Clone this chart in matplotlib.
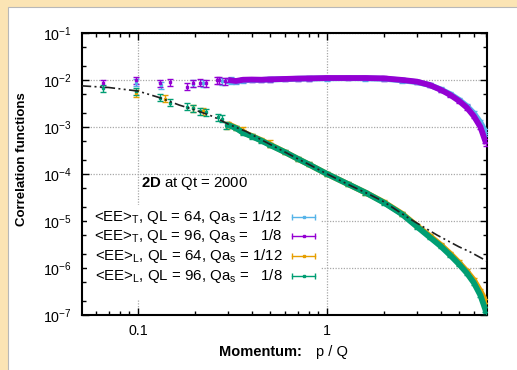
import matplotlib
matplotlib.use("Agg")
import matplotlib.pyplot as plt
from matplotlib.patches import Rectangle
from matplotlib.ticker import LogLocator, NullFormatter, FixedLocator, FixedFormatter

plt.rcParams['font.family'] = ['Liberation Sans', 'DejaVu Sans']
plt.rcParams['mathtext.fontset'] = 'custom'
plt.rcParams['mathtext.rm'] = 'Liberation Sans'
plt.rcParams['mathtext.it'] = 'Liberation Sans:italic'
plt.rcParams['mathtext.bf'] = 'Liberation Sans:bold'

# ---------------- data ----------------
labels = [r'<EE>$_\mathrm{T}$, QL = 64, Qa$_\mathrm{s}$ = 1/12',
          r'<EE>$_\mathrm{T}$, QL = 96, Qa$_\mathrm{s}$ =   1/8',
          r'<EE>$_\mathrm{L}$, QL = 64, Qa$_\mathrm{s}$ = 1/12',
          r'<EE>$_\mathrm{L}$, QL = 96, Qa$_\mathrm{s}$ =   1/8']
colors = ['#56B4E9', '#9400D3', '#E69F00', '#009E73']

x_ticks = [0.1, 1]
x_tick_labels = ['0.1', '1']
y_ticks = [1e-7, 1e-6, 1e-5, 1e-4, 1e-3, 1e-2, 1e-1]
y_tick_labels = [r'$10^{-7}$', r'$10^{-6}$', r'$10^{-5}$', r'$10^{-4}$',
                 r'$10^{-3}$', r'$10^{-2}$', r'$10^{-1}$']

# sparse low-momentum points
pT64_s = [0.098, 0.133, 0.196, 0.22, 0.278, 0.31]
T64_s = [8.8e-3, 7.9e-3, 8.4e-3, 8.5e-3, 9.5e-3, 9.8e-3]
pT96_s = [0.0654, 0.098, 0.131, 0.147, 0.181, 0.196, 0.212, 0.228, 0.262, 0.27, 0.29]
T96_s = [8.6e-3, 1.0e-2, 8.5e-3, 8.9e-3, 7.2e-3, 8.6e-3, 8.8e-3, 8.7e-3, 1.0e-2, 1.0e-2, 9.6e-3]
pL64_s = [0.098, 0.139, 0.196, 0.22, 0.295, 0.36, 0.5]
L64_s = [5.3e-3, 4.0e-3, 2.5e-3, 2.15e-3, 1.1e-3, 8.6e-4, 4.5e-4]
pL96_s = [0.0654, 0.097, 0.131, 0.147, 0.181, 0.196, 0.212, 0.228, 0.265, 0.28, 0.294]
L96_s = [6.6e-3, 5.9e-3, 4.2e-3, 3.3e-3, 2.7e-3, 2.5e-3, 2.2e-3, 2.1e-3, 1.6e-3, 1.5e-3, 1.1e-3]

# dense band (p >= 0.3)
p_band = [0.3, 0.33, 0.36, 0.4, 0.45, 0.5, 0.6, 0.7, 0.8, 1.0, 1.3, 1.6, 2.0, 2.5,
          3.0, 3.5, 4.0, 4.5, 5.0, 5.5, 6.0, 6.5, 6.9, 7.0]
T64_b = [9.6e-3, 9.3e-3, 9.8e-3, 1.0e-2, 1.0e-2, 1.02e-2, 1.04e-2, 1.06e-2, 1.07e-2, 1.08e-2,
         1.09e-2, 1.08e-2, 1.06e-2, 9.8e-3, 9.0e-3, 7.8e-3, 6.3e-3, 5.0e-3, 3.8e-3,
         2.8e-3, 1.95e-3, 1.25e-3, 8.0e-4, 7.0e-4]
T96_b = [1.0e-2, 9.5e-3, 1.01e-2, 1.02e-2, 1.01e-2, 1.03e-2, 1.05e-2, 1.07e-2, 1.08e-2, 1.1e-2,
         1.1e-2, 1.1e-2, 1.08e-2, 1.0e-2, 9.2e-3, 7.8e-3, 6.2e-3, 4.8e-3, 3.6e-3,
         2.6e-3, 1.7e-3, 1.0e-3, 5.0e-4, 4.4e-4]
L64_b = [1.15e-3, 9.6e-4, 7.7e-4, 6.4e-4, 5.2e-4, 4.2e-4, 2.9e-4, 2.1e-4, 1.6e-4, 1.0e-4,
         6.0e-5, 4.0e-5, 2.5e-5, 1.42e-5, 7.8e-6, 4.8e-6, 3.1e-6, 2.0e-6, 1.3e-6,
         8.5e-7, 5.5e-7, 3.2e-7, 2.0e-7, 1.6e-7]
L96_b = [1.1e-3, 9.4e-4, 7.5e-4, 6.3e-4, 5.1e-4, 4.1e-4, 2.9e-4, 2.1e-4, 1.6e-4, 1.0e-4,
         6.0e-5, 4.0e-5, 2.45e-5, 1.38e-5, 7.5e-6, 4.5e-6, 2.9e-6, 1.85e-6, 1.2e-6,
         7.8e-7, 4.8e-7, 2.6e-7, 1.3e-7, 1.05e-7]

# dash-dot reference curve
p_fit = [0.05, 0.07, 0.1, 0.13, 0.166, 0.2, 0.25, 0.3, 0.376, 0.45, 0.565, 0.7, 0.8,
         1.0, 1.3, 1.69, 2.0, 2.75, 3.82, 5.0, 5.7, 7.0]
fit = [7.5e-3, 6.9e-3, 5.8e-3, 4.2e-3, 2.9e-3, 2.3e-3, 1.66e-3, 1.15e-3, 7.9e-4, 5.3e-4,
       3.3e-4, 2.1e-4, 1.6e-4, 1.0e-4, 5.9e-5, 3.6e-5, 2.55e-5, 1.1e-5, 5.0e-6, 2.8e-6,
       2.2e-6, 1.4e-6]

rel_err = 0.17

# ---------------- figure ----------------
fig = plt.figure(figsize=(5.17, 3.70), dpi=100)
fig.patch.set_facecolor('#FBE4B4')
fig.patches.append(Rectangle((8 / 517, -0.01), 1.0, 1 - 7 / 370 + 0.01, transform=fig.transFigure,
                             facecolor='white', edgecolor='#b8b8b8', lw=0.8, zorder=-5))

ax = fig.add_axes([82 / 517, 1 - 314.7 / 370, 404.7 / 517, 281.7 / 370])
ax.set_zorder(1)
ax.set_xscale('log')
ax.set_yscale('log')
ax.set_xlim(0.0505, 7.02)
ax.set_ylim(1e-7, 1e-1)
ax.set_axisbelow(True)

sparse = [(pT64_s, T64_s), (pT96_s, T96_s), (pL64_s, L64_s), (pL96_s, L96_s)]
bands = [T64_b, T96_b, L64_b, L96_b]
for (ps, vs), vb, c in zip(sparse, bands, colors):
    lo = [v * rel_err for v in vs]
    hi = [v * rel_err for v in vs]
    ax.errorbar(ps, vs, yerr=[lo, hi], fmt='s', ms=2, color=c, ecolor=c,
                elinewidth=1, capsize=2, capthick=1, zorder=3)
    blo = [v * rel_err * 0.6 for v in vb]
    ax.errorbar(p_band, vb, yerr=[blo, blo], fmt='-', lw=4.2, color=c, ecolor=c,
                elinewidth=1, capsize=2, capthick=1, zorder=3, solid_capstyle='butt')

ax.plot(p_fit, fit, color='#202020', lw=1.2, dashes=(6, 2, 1.2, 2, 1.2, 2), zorder=4)

# grid
ax.grid(True, which='major', color='#a8a8a8', lw=0.9, ls=(0, (1, 1.2)))

# ticks
ax.xaxis.set_major_locator(FixedLocator(x_ticks))
ax.xaxis.set_major_formatter(FixedFormatter(x_tick_labels))
ax.xaxis.set_minor_locator(LogLocator(base=10, subs=[2, 3, 4, 5, 6, 7, 8, 9], numticks=20))
ax.xaxis.set_minor_formatter(NullFormatter())
ax.yaxis.set_major_locator(FixedLocator(y_ticks))
ax.yaxis.set_major_formatter(FixedFormatter(y_tick_labels))
ax.yaxis.set_minor_locator(LogLocator(base=10, subs=[2, 5], numticks=20))
ax.yaxis.set_minor_formatter(NullFormatter())
ax.tick_params(which='both', direction='in', top=True, right=True, width=1, colors='black')
ax.tick_params(which='major', length=5, labelsize=10.3, pad=7)
ax.tick_params(which='minor', length=3)
for s in ax.spines.values():
    s.set_linewidth(1.5)

# axis titles
ax.text(0.543, -0.131, 'Momentum:', transform=ax.transAxes, fontsize=10.5,
        fontweight='bold', ha='right', va='center')
ax.text(0.578, -0.131, 'p / Q', transform=ax.transAxes, fontsize=10.5,
        ha='left', va='center')
ax.set_ylabel('Correlation functions', fontsize=9.5, fontweight='bold')
ax.yaxis.set_label_coords(-0.133, 0.553)

# key background
ax.add_patch(Rectangle((0.012, 0.052), 0.578, 0.337, transform=ax.transAxes,
                       facecolor='white', edgecolor='none', zorder=1))

ax.text(0.146, 0.466, r'$\mathbf{2D}$ at Qt = 2000', transform=ax.transAxes,
        fontsize=10.7, ha='left', va='center', zorder=5)

rows = [0.348, 0.279, 0.210, 0.138]
for lab, c, y in zip(labels, colors, rows):
    ax.text(0.496, y, lab, transform=ax.transAxes, fontsize=10.8, ha='right', va='center', zorder=5)
    ax.plot([0.52, 0.575], [y, y], transform=ax.transAxes, color=c, lw=1,
            marker='|', ms=5, mew=1, zorder=5)
    ax.plot([0.5475], [y], transform=ax.transAxes, color=c, marker='s', ms=2, zorder=5)

fig.savefig('out.png', dpi=100, facecolor=fig.get_facecolor())
